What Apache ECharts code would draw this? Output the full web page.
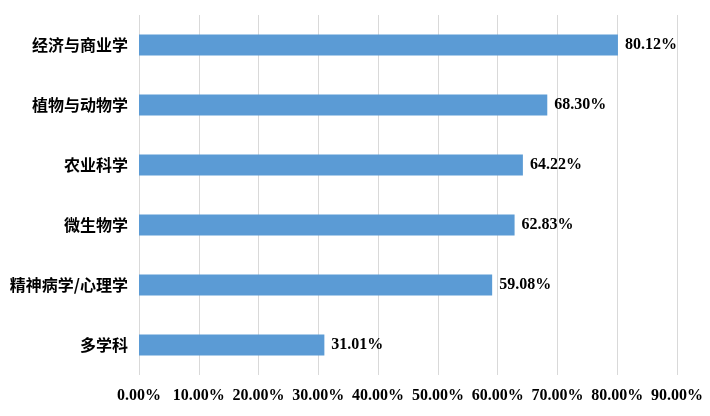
<!DOCTYPE html>
<html><head><meta charset="utf-8">
<script src="https://cdn.jsdelivr.net/npm/echarts@6/dist/echarts.min.js"></script>
<style>html,body{margin:0;padding:0;background:#fff}#c{width:710px;height:416px}</style>
</head><body><div id="c"></div>
<script>
const categories = ["经济与商业学","植物与动物学","农业科学","微生物学","精神病学/心理学","多学科"];
const values = [80.12, 68.30, 64.22, 62.83, 59.08, 31.01];
const xTicks = {min: 0, max: 90, interval: 10};

const chart = echarts.init(document.getElementById('c'));
chart.setOption({
  animation: false,
  grid: {left: 139, right: 33, top: 15, bottom: 41, containLabel: false},
  xAxis: {
    type: 'value', min: xTicks.min, max: xTicks.max, interval: xTicks.interval,
    axisLine: {show: false}, axisTick: {show: false},
    splitLine: {show: true, lineStyle: {color: '#d9d9d9', width: 1}},
    axisLabel: {formatter: v => v.toFixed(2) + '%', color: '#000', fontFamily: 'Liberation Serif', fontWeight: 'bold', fontSize: 16, margin: 13}
  },
  yAxis: {
    type: 'category', data: categories, inverse: true,
    axisLine: {show: false}, axisTick: {show: false},
    axisLabel: {color: '#000', fontFamily: 'Noto Sans CJK SC', fontWeight: 'bold', fontSize: 16, margin: 11}
  },
  series: [{
    type: 'bar', data: values, barWidth: 21,
    itemStyle: {color: '#5B9BD5'},
    label: {show: true, position: 'right', distance: 7, formatter: p => p.value.toFixed(2) + '%',
      color: '#000', fontFamily: 'Liberation Serif', fontWeight: 'bold', fontSize: 16}
  }]
});
</script></body></html>
